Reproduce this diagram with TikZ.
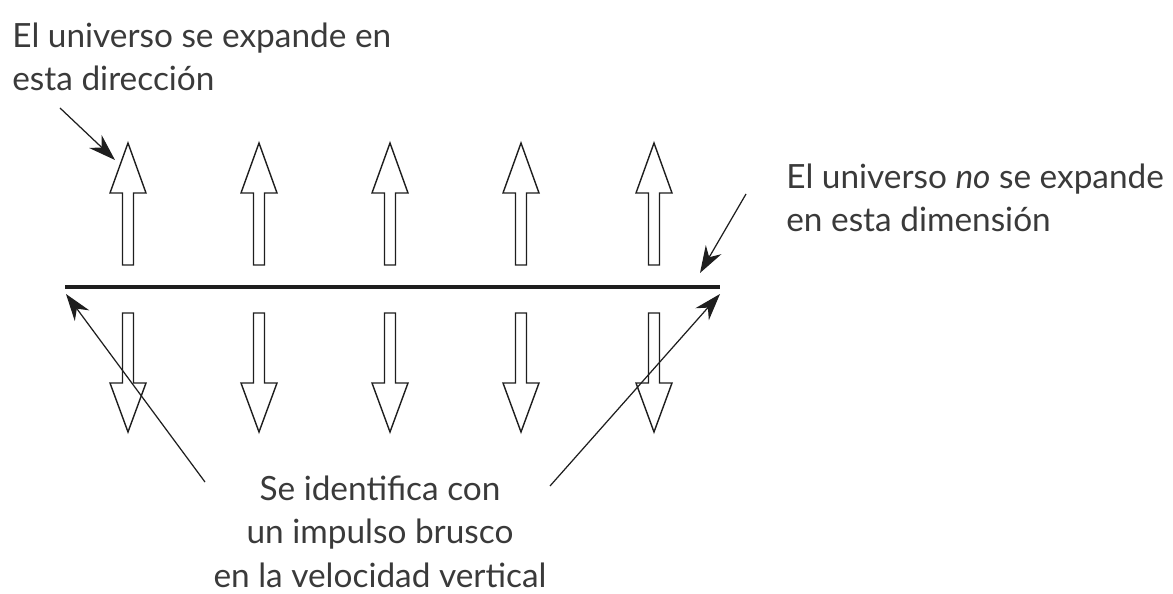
\documentclass[tikz,border=0pt]{standalone}
\usepackage{fontspec}
\setmainfont{Lato}
\usetikzlibrary{positioning,arrows.meta,calc}
\definecolor{tinta}{HTML}{1E1E1E}
\definecolor{texto}{HTML}{3A3A3A}

\tikzset{
  rotulo/.style={font=\fontsize{19}{24.5}\selectfont, text=texto, inner sep=0pt},
  flecha/.style={draw=tinta, line width=0.8pt, fill=white},
  indicador/.style={draw=tinta, line width=0.7pt, -{Stealth[length=5.4mm, width=3.6mm]}}
}

\begin{document}
\begin{tikzpicture}[x=0.02cm, y=-0.02cm]
  \useasboundingbox (0,0) rectangle (1173,594);
  % flechas huecas hacia arriba y hacia abajo
  \foreach \cx in {128,259,390,521,654} {
    \draw[flecha] (\cx-5.5,265) -- (\cx-5.5,193) -- (\cx-18,193) -- (\cx,143)
      -- (\cx+18,193) -- (\cx+5.5,193) -- (\cx+5.5,265) -- cycle;
    \draw[flecha] (\cx-5.5,313) -- (\cx-5.5,383) -- (\cx-18,383) -- (\cx,432)
      -- (\cx+18,383) -- (\cx+5.5,383) -- (\cx+5.5,313) -- cycle;
  }
  % la dimension que no se expande
  \coordinate (izq) at (65,287);
  \coordinate (der) at (720,287);
  \draw[draw=tinta, line width=2pt] (izq) -- (der);
  % textos (base = linea de base de la ultima linea)
  \node[rotulo, anchor=base west, align=left] (direccion) at (12,91)
    {El universo se expande en\\esta dirección};
  \node[rotulo, anchor=base west, align=left] (dimension) at (786,232)
    {El universo \textit{no} se expande\\en esta dimensión};
  \node[rotulo, anchor=base, align=center] (impulso) at (380,587)
    {Se identifica con\\un impulso brusco\\en la velocidad vertical};
  % indicadores
  \coordinate (d0) at (60,108);
  \coordinate (d1) at (115,160);
  \draw[indicador] (d0) -- (d1);
  \coordinate (m0) at (746,194);
  \coordinate (m1) at (700,273);
  \draw[indicador] (m0) -- (m1);
  \coordinate (i0) at (205,482);
  \coordinate (i1) at (66,294);
  \draw[indicador] (i0) -- (i1);
  \coordinate (r0) at (550,486);
  \coordinate (r1) at (720,294);
  \draw[indicador] (r0) -- (r1);
\end{tikzpicture}
\end{document}
